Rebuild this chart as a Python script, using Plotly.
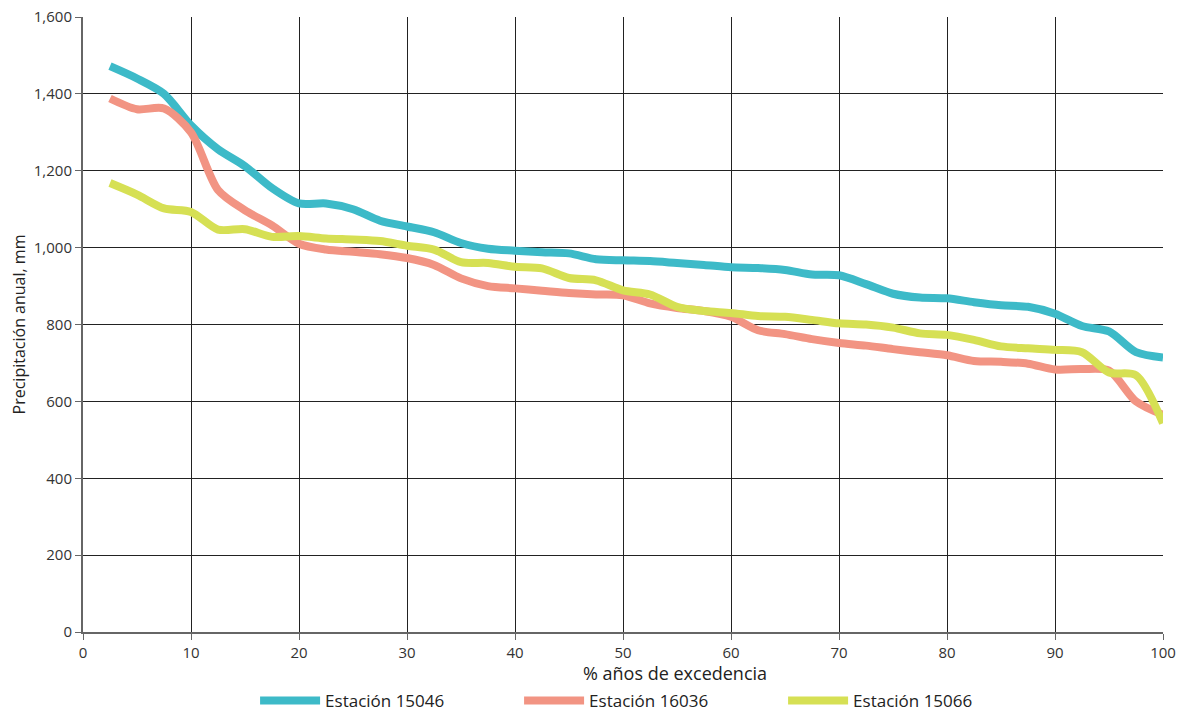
import plotly.graph_objects as go

# % años de excedencia (40 años -> pasos de 2.5 %)
excedencia = [2.5 * i for i in range(1, 41)]

est_15046 = [1472, 1440, 1400, 1318, 1256, 1212, 1155, 1115, 1115, 1100,
             1070, 1055, 1040, 1012, 997, 992, 988, 985, 970, 967,
             965, 960, 955, 949, 947, 942, 930, 928, 905, 880,
             870, 868, 858, 850, 846, 828, 796, 782, 728, 714]

est_16036 = [1388, 1360, 1362, 1300, 1150, 1097, 1058, 1010, 995, 989,
             983, 973, 955, 920, 900, 894, 888, 882, 878, 876,
             855, 843, 835, 820, 785, 775, 762, 752, 745, 736,
             728, 720, 705, 703, 698, 683, 684, 680, 600, 565]

est_15066 = [1168, 1138, 1102, 1093, 1047, 1048, 1028, 1030, 1024, 1021,
             1017, 1005, 995, 962, 960, 950, 946, 921, 915, 889,
             878, 846, 835, 830, 822, 820, 812, 803, 800, 792,
             777, 773, 760, 743, 738, 734, 728, 675, 668, 543]

series = [
    ("Estación 15046", est_15046, "#3DBAC8"),
    ("Estación 16036", est_16036, "#F29483"),
    ("Estación 15066", est_15066, "#D6E054"),
]

FONT = "'Open Sans', Lato, sans-serif"

fig = go.Figure()
for name, vals, color in series:
    fig.add_trace(go.Scatter(
        x=excedencia, y=vals, name=name, mode="lines",
        line=dict(color=color, width=8, shape="spline", smoothing=0.8),
    ))

axis_common = dict(
    showgrid=True, gridcolor="#222222", gridwidth=1,
    showline=True, linecolor="#666666", linewidth=2,
    ticks="outside", ticklen=6, tickcolor="#666666",
    zeroline=False, automargin=False, ticklabeloverflow="allow",
    tickfont=dict(size=15, color="#333333"),
)

# x title sits a little right of centre in the original, so it's an annotation
fig.add_annotation(
    text="% años de excedencia", x=0.548, y=-0.066,
    xref="paper", yref="paper", xanchor="center", yanchor="middle",
    showarrow=False, font=dict(size=18, color="#222222"),
)

fig.update_layout(
    width=1182, height=712,
    margin=dict(l=83, r=19, t=17, b=80),
    paper_bgcolor="#FFFFFF",
    plot_bgcolor="#FFFFFF",
    font=dict(family=FONT, size=15, color="#333333"),
    showlegend=True,
    legend=dict(orientation="h", xanchor="center", x=0.526,
                yref="container", yanchor="middle", y=0.0155,
                font=dict(size=17, color="#222222"),
                entrywidth=189, entrywidthmode="pixels",
                itemwidth=60, bgcolor="rgba(0,0,0,0)"),
    xaxis=dict(range=[0, 100], dtick=10, tick0=0, **axis_common),
    yaxis=dict(
        range=[0, 1600], dtick=200, tickformat=",",
        title=dict(text="Precipitación anual, mm", standoff=4,
                   font=dict(size=16, color="#222222")),
        **axis_common,
    ),
)

# drop the default 8px body margin so the figure fills the window exactly
fig.write_html("out.html", config={"displayModeBar": False},
               post_script="document.body.style.margin = '0';")
